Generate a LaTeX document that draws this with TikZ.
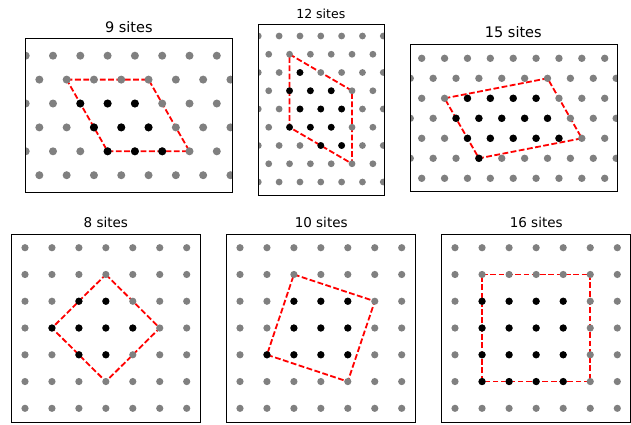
\documentclass[tikz,border=0pt]{standalone}
\usepackage{fontspec}
\setmainfont{DejaVu Sans}
\definecolor{dotgray}{RGB}{128,128,128}
\begin{document}
\begin{tikzpicture}[x=1pt,y=-1pt,
  frame/.style={draw=black,line width=0.8pt},
  cell/.style={draw=red,line width=1.8pt,dash pattern=on 5.8pt off 2.5pt},
  title/.style={anchor=base,inner sep=0pt}]
\useasboundingbox (0,0) rectangle (631,424);

% ---------------- 9 sites ----------------
\node[title,font=\fontsize{14.5}{17}\selectfont] (t9) at (128.8,32) {9 sites};
\begin{scope}
\clip (25,38.3) rectangle (232.3,192.7);
\begin{scope}[shift={(25.7pt,-55.7pt)},x={(27.3pt,0pt)},y={(0pt,-23.9pt)}]
  \coordinate (p9a) at (1.5,1);
  \coordinate (p9b) at (4.5,1);
  \coordinate (p9c) at (6,4);
  \coordinate (p9d) at (3,4);
  \draw[cell] (p9a) -- (p9b) -- (p9c) -- (p9d) -- cycle;
  \foreach \r in {0,...,5} \foreach \k in {-1,...,8}
    \fill[dotgray] ({\k+0.5*mod(\r,2)},\r) circle[radius=4pt];
  \foreach \p in {(2,2),(3,2),(4,2),(2.5,3),(3.5,3),(4.5,3),(3,4),(4,4),(5,4)}
    \fill[black] \p circle[radius=4pt];
\end{scope}
\end{scope}
\draw[frame] (25,38.3) rectangle (232.3,192.7);

% ---------------- 12 sites ----------------
\node[title,font=\fontsize{12.5}{15}\selectfont] (t12) at (320.8,18.3) {12 sites};
\begin{scope}
\clip (258.3,24) rectangle (384.3,195);
\begin{scope}[shift={(258.3pt,-36pt)},x={(20.83pt,0pt)},y={(0pt,-18.25pt)}]
  \coordinate (p12a) at (1.5,1);
  \coordinate (p12b) at (4.5,3);
  \coordinate (p12c) at (4.5,7);
  \coordinate (p12d) at (1.5,5);
  \draw[cell] (p12a) -- (p12b) -- (p12c) -- (p12d) -- cycle;
  \foreach \r in {0,...,8} \foreach \k in {-1,...,6}
    \fill[dotgray] ({\k+0.5*mod(\r,2)},\r) circle[radius=3.4pt];
  \foreach \p in {(2,2),(1.5,3),(2.5,3),(3.5,3),(2,4),(3,4),(4,4),(1.5,5),(2.5,5),(3.5,5),(3,6),(4,6)}
    \fill[black] \p circle[radius=3.4pt];
\end{scope}
\end{scope}
\draw[frame] (258.3,24) rectangle (384.3,195);

% ---------------- 15 sites ----------------
\node[title,font=\fontsize{14.5}{17}\selectfont] (t15) at (513.3,37) {15 sites};
\begin{scope}
\clip (410,44.3) rectangle (617.3,191.7);
\begin{scope}[shift={(421.7pt,-58.3pt)},x={(22.875pt,0pt)},y={(0pt,-20pt)}]
  \coordinate (p15a) at (1,2);
  \coordinate (p15b) at (5.5,1);
  \coordinate (p15c) at (7,4);
  \coordinate (p15d) at (2.5,5);
  \draw[cell] (p15a) -- (p15b) -- (p15c) -- (p15d) -- cycle;
  \foreach \r in {0,...,6} \foreach \k in {-1,...,8}
    \fill[dotgray] ({\k+0.5*mod(\r,2)},\r) circle[radius=3.7pt];
  \foreach \p in {(2,2),(3,2),(4,2),(5,2),(1.5,3),(2.5,3),(3.5,3),(4.5,3),(5.5,3),(2,4),(3,4),(4,4),(5,4),(6,4),(2.5,5)}
    \fill[black] \p circle[radius=3.7pt];
\end{scope}
\end{scope}
\draw[frame] (410,44.3) rectangle (617.3,191.7);

% ---------------- 8 sites ----------------
\node[title,font=\fontsize{13.5}{16}\selectfont] (t8) at (105.8,227.3) {8 sites};
\begin{scope}
\clip (11.7,234) rectangle (200.5,422.7);
\begin{scope}[shift={(25pt,-247.7pt)},x={(26.95pt,0pt)},y={(0pt,-26.77pt)}]
  \coordinate (p8a) at (3,1);
  \coordinate (p8b) at (5,3);
  \coordinate (p8c) at (3,5);
  \coordinate (p8d) at (1,3);
  \draw[cell] (p8a) -- (p8b) -- (p8c) -- (p8d) -- cycle;
  \foreach \r in {0,...,6} \foreach \k in {0,...,6}
    \fill[dotgray] (\k,\r) circle[radius=3.6pt];
  \foreach \p in {(2,2),(3,2),(1,3),(2,3),(3,3),(4,3),(2,4),(3,4)}
    \fill[black] \p circle[radius=3.6pt];
\end{scope}
\end{scope}
\draw[frame] (11.7,234) rectangle (200.5,422.7);

% ---------------- 10 sites ----------------
\node[title,font=\fontsize{13.5}{16}\selectfont] (t10) at (321.2,227.3) {10 sites};
\begin{scope}
\clip (226.7,234) rectangle (415.5,422.7);
\begin{scope}[shift={(240pt,-247.7pt)},x={(26.95pt,0pt)},y={(0pt,-26.77pt)}]
  \coordinate (p10a) at (2,1);
  \coordinate (p10b) at (5,2);
  \coordinate (p10c) at (4,5);
  \coordinate (p10d) at (1,4);
  \draw[cell] (p10a) -- (p10b) -- (p10c) -- (p10d) -- cycle;
  \foreach \r in {0,...,6} \foreach \k in {0,...,6}
    \fill[dotgray] (\k,\r) circle[radius=3.6pt];
  \foreach \p in {(2,2),(3,2),(4,2),(2,3),(3,3),(4,3),(1,4),(2,4),(3,4),(4,4)}
    \fill[black] \p circle[radius=3.6pt];
\end{scope}
\end{scope}
\draw[frame] (226.7,234) rectangle (415.5,422.7);

% ---------------- 16 sites ----------------
\node[title,font=\fontsize{13.5}{16}\selectfont] (t16) at (536.2,227.3) {16 sites};
\begin{scope}
\clip (441.7,234) rectangle (630.3,422.7);
\begin{scope}[shift={(455pt,-247.7pt)},x={(27.05pt,0pt)},y={(0pt,-26.77pt)}]
  \coordinate (p16a) at (1,1);
  \coordinate (p16b) at (5,1);
  \coordinate (p16c) at (5,5);
  \coordinate (p16d) at (1,5);
  \draw[cell] (p16a) -- (p16b) -- (p16c) -- (p16d) -- cycle;
  \foreach \r in {0,...,6} \foreach \k in {0,...,6}
    \fill[dotgray] (\k,\r) circle[radius=3.6pt];
  \foreach \r in {2,...,5} \foreach \k in {1,...,4}
    \fill[black] (\k,\r) circle[radius=3.6pt];
\end{scope}
\end{scope}
\draw[frame] (441.7,234) rectangle (630.3,422.7);
\end{tikzpicture}
\end{document}
